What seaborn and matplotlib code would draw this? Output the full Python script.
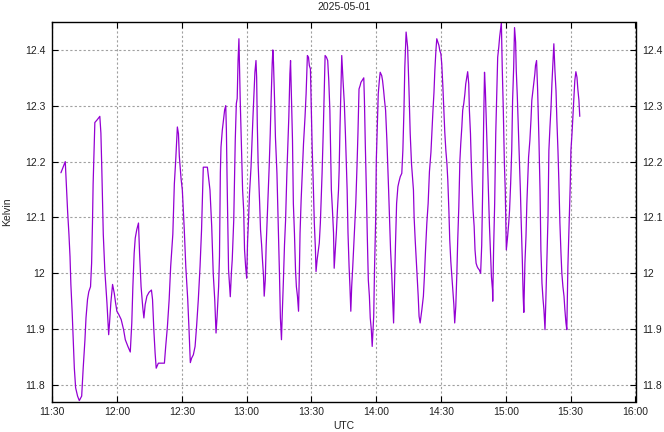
import pandas as pd
import matplotlib
matplotlib.use('Agg')
import matplotlib.pyplot as plt
import matplotlib.dates as mdates
from matplotlib.ticker import FuncFormatter, MultipleLocator
import seaborn as sns

# Readings taken from the chart: minutes after 11:30 UTC and temperature
day = '2025-05-01'
start = '2025-05-01 11:30'
end = '2025-05-01 16:00'

minutes = [
    4.0, 6.0, 6.6, 7.1, 7.7, 8.2, 8.6, 9.2, 9.7, 10.2, 10.8, 11.7, 12.5, 13.6, 14.3, 15.1,
    15.6, 16.3, 16.9, 17.7, 18.2, 18.6, 18.9, 19.4, 19.7, 20.8, 22.0, 22.5, 22.9, 23.6, 24.3,
    25.3, 26.1, 26.5, 27.1, 27.9, 28.7, 29.3, 29.9, 30.8, 31.9, 33.0, 33.8, 35.0, 36.1, 36.8,
    37.3, 37.9, 38.4, 39.1, 39.9, 40.4, 41.1, 41.9, 42.4, 43.0, 43.8, 44.8, 45.9, 46.4, 47.0,
    47.6, 48.1, 49.1, 51.9, 52.5, 53.3, 54.1, 54.8, 55.8, 56.5, 57.1, 57.9, 58.4, 58.8, 59.6,
    60.2, 61.1, 61.8, 62.7, 63.3, 63.9, 64.5, 65.3, 66.1, 66.8, 67.6, 68.4, 69.1, 69.9, 71.8,
    72.2, 73.0, 73.8, 74.5,
    75.2, 75.8, 76.3, 77.0, 77.4, 77.8, 78.1, 78.7, 79.3, 79.8, 80.3, 80.6, 80.9, 81.6, 82.4,
    82.9, 83.3, 84.0, 84.7, 85.2, 85.6, 86.0, 86.4, 86.6, 87.0, 87.5, 88.1, 88.6, 89.0, 89.5,
    90.0, 90.4, 90.9, 91.3, 92.0, 92.4, 92.9, 93.3, 93.8, 94.3, 94.6, 94.9, 95.3, 96.0, 96.4,
    96.9, 97.3, 97.8, 98.1, 98.6, 99.0, 99.5, 100.0, 100.4, 100.9, 101.3, 101.8, 102.1, 102.4,
    102.9, 103.3, 104.0, 104.7, 105.2, 105.6, 106.1, 106.4, 107.0, 107.5, 108.0, 108.6, 109.0,
    109.5, 110.0, 110.3, 110.7, 111.2, 111.6, 112.1, 112.6, 113.0, 113.5, 114.0, 114.4, 114.7,
    115.2, 115.8, 116.3, 117.0, 117.5, 118.1, 118.6, 119.0, 119.5, 119.8, 120.3, 120.9, 121.3,
    121.8, 122.1, 122.6, 123.0, 123.6, 124.1, 124.6, 124.9,
    125.5, 126.0, 126.3, 126.9, 127.5, 128.0, 128.5, 128.9, 129.2, 129.7, 130.2, 130.5, 131.1,
    131.5, 132.0, 132.5, 132.8, 133.2, 133.7, 134.0, 134.6, 135.2, 135.7, 136.2, 136.5, 136.9,
    137.4, 137.8, 138.2, 138.6, 139.1, 139.5, 140.0, 140.5, 141.1, 141.5, 142.0, 142.5, 142.9,
    143.4, 144.2, 144.5, 144.9, 145.4, 145.8, 146.3, 146.8, 147.2, 147.7, 148.1, 148.8, 149.2,
    149.7, 150.0, 150.5, 150.9, 151.4, 151.8, 152.5, 152.9, 153.4, 153.8, 154.3, 154.9, 155.4,
    155.7, 156.2, 156.6, 157.1, 157.5, 158.0, 158.5, 158.9, 159.4, 160.0, 160.5, 161.1, 161.8,
    162.3, 162.8, 163.2, 163.8, 164.5, 165.1, 165.7, 166.3, 167.2, 167.5, 168.0, 168.5, 168.9,
    169.4, 169.8, 170.3, 171.1, 171.8, 172.3, 172.8, 173.4, 174.0, 174.6,
    175.3, 175.7, 176.2, 176.7, 177.1, 177.6, 178.0, 178.5, 179.0, 179.4, 179.9, 180.3, 180.8,
    181.3, 181.7, 182.2, 182.7, 183.1, 183.6, 184.0, 184.5, 185.0, 185.4, 185.9, 186.3, 186.8,
    187.3, 187.7, 188.2, 188.7, 189.1, 189.6, 190.0, 190.5, 191.0, 191.4, 191.9, 192.3, 192.8,
    193.1, 193.6, 193.9, 194.3, 194.8, 195.3, 195.7, 196.2, 196.7, 197.1, 197.7, 198.3, 198.8,
    199.3, 199.7, 200.1, 200.5, 201.0, 201.6, 201.9, 202.4, 202.8, 203.3, 203.8, 203.9, 204.3,
    204.8, 205.3, 205.7, 206.2, 206.7, 207.1, 207.6, 207.9, 208.3, 208.8, 209.3, 209.7, 210.2,
    210.8, 211.3, 211.7, 212.2, 212.7, 213.1, 213.6, 214.0, 214.5, 214.8, 215.3, 215.7, 216.2,
    216.7, 217.1, 217.6, 218.0, 218.3, 218.8, 219.3, 219.7, 220.5, 221.1, 221.6, 222.0, 222.5,
    223.0, 223.4, 223.7, 224.2, 224.7,
    225.3, 225.8, 226.2, 226.7, 227.2, 227.6, 228.1, 228.5, 229.0, 229.5, 229.9, 230.4, 230.9,
    231.3, 231.8, 232.2, 232.7, 233.2, 233.6, 234.1, 234.5, 235.0, 235.5, 235.9, 236.4, 236.9,
    237.3, 237.8, 238.2, 238.7, 239.3, 239.8, 240.1, 240.6, 241.0, 241.5, 241.9, 242.4, 242.9,
    243.3, 243.8, 244.2,
]

kelvin = [
    12.18, 12.20, 12.15, 12.11, 12.07, 12.03, 11.98, 11.93, 11.88, 11.83, 11.795, 11.78, 11.772,
    11.78, 11.83, 11.88, 11.92, 11.953, 11.967, 11.976, 12.018, 12.09, 12.16, 12.232, 12.27,
    12.275, 12.281, 12.251, 12.19, 12.07, 12.006,
    11.947, 11.89, 11.911, 11.947, 11.98, 11.964, 11.947, 11.932, 11.926, 11.917, 11.899, 11.881,
    11.869, 11.859, 11.911, 11.976, 12.036, 12.063, 12.078, 12.09, 12.036, 11.976, 11.938, 11.92,
    11.944, 11.959, 11.966, 11.97, 11.953, 11.899, 11.857, 11.83, 11.839, 11.839, 11.869, 11.905,
    11.953, 12.012, 12.07, 12.16, 12.2, 12.262, 12.25, 12.21, 12.17, 12.149, 12.078, 12.012,
    11.953, 11.899, 11.84, 11.848, 11.854, 11.869, 11.905, 11.953, 12.012, 12.078, 12.19, 12.19,
    12.176, 12.149, 12.084, 12.0,
    11.953, 11.893, 11.923, 11.976, 12.03, 12.18, 12.226, 12.256, 12.277, 12.293, 12.30, 12.256,
    12.173, 12.006, 11.958, 12.0, 12.024, 12.095, 12.238, 12.304, 12.313, 12.381, 12.42, 12.382,
    12.31, 12.238, 12.149, 12.113, 12.042, 12.012, 11.991, 12.057, 12.101, 12.143, 12.19, 12.232,
    12.28, 12.315, 12.36, 12.381, 12.351, 12.268, 12.196, 12.125, 12.078, 12.051, 12.024, 11.994,
    11.959, 11.988, 12.048, 12.098, 12.149, 12.19, 12.25, 12.31, 12.375, 12.40, 12.378, 12.31,
    12.244, 12.179, 12.072, 11.994, 11.92, 11.881, 11.92, 11.988, 12.051, 12.095, 12.179, 12.226,
    12.28, 12.357, 12.381, 12.315, 12.238, 12.125, 12.072, 12.006, 11.976, 11.959, 11.932, 12.006,
    12.072, 12.131, 12.185, 12.232, 12.28, 12.321, 12.39, 12.387, 12.372, 12.366, 12.315, 12.226,
    12.149, 12.09, 12.045, 12.003, 12.024, 12.036, 12.054, 12.09, 12.149, 12.179,
    12.262, 12.345, 12.39, 12.387, 12.381, 12.345, 12.292, 12.208, 12.149, 12.113, 12.072, 12.009,
    12.045, 12.072, 12.113, 12.149, 12.185, 12.262, 12.345, 12.39, 12.345, 12.304, 12.25, 12.19,
    12.149, 12.072, 12.012, 11.976, 11.932, 11.976, 12.012, 12.045, 12.09, 12.125, 12.196, 12.25,
    12.33, 12.336, 12.342, 12.345, 12.35, 12.31, 12.232, 12.149, 12.072, 11.988, 11.959, 11.92,
    11.899, 11.869, 11.923, 12.012, 12.095, 12.202, 12.268, 12.321, 12.345, 12.36, 12.354, 12.345,
    12.327, 12.31, 12.292, 12.238, 12.185, 12.149, 12.09, 12.042, 12.003, 11.964, 11.911, 11.994,
    12.054, 12.125, 12.155, 12.164, 12.173, 12.179, 12.22, 12.292, 12.369, 12.432, 12.405, 12.333,
    12.25, 12.196, 12.149, 12.101, 12.06, 12.024, 11.994, 11.959, 11.923, 11.911, 11.935, 11.959,
    11.997, 12.042, 12.09, 12.125, 12.182,
    12.217, 12.25, 12.289, 12.324, 12.363, 12.399, 12.42, 12.414, 12.408, 12.399, 12.393, 12.375,
    12.336, 12.292, 12.253, 12.22, 12.196, 12.167, 12.113, 12.06, 12.021, 11.994, 11.97, 11.944,
    11.911, 11.941, 12.0, 12.06, 12.119, 12.202, 12.232, 12.262, 12.292, 12.304, 12.321, 12.339,
    12.351, 12.361, 12.339, 12.292, 12.25, 12.208, 12.161, 12.113, 12.084, 12.042, 12.018, 12.012,
    12.009, 12.006, 12.0, 12.05, 12.16, 12.27, 12.36, 12.327, 12.262, 12.19, 12.149, 12.084,
    12.042, 11.994, 11.97, 11.95, 12.042, 12.125, 12.25, 12.31, 12.387, 12.405, 12.423, 12.44,
    12.449, 12.369, 12.292, 12.196, 12.149, 12.042, 12.066, 12.09, 12.113, 12.161, 12.22, 12.31,
    12.369, 12.44, 12.414, 12.363, 12.315, 12.265, 12.208, 12.149, 12.09, 12.024, 11.959, 11.93,
    12.018, 12.066, 12.125, 12.208, 12.238, 12.274, 12.31, 12.327, 12.345, 12.357, 12.372, 12.381,
    12.327,
    12.238, 12.149, 12.042, 11.982, 11.953, 11.935, 11.899, 11.953, 12.03, 12.101, 12.22, 12.262,
    12.298, 12.339, 12.381, 12.411, 12.363, 12.327, 12.274, 12.22, 12.167, 12.09, 12.036, 12.0,
    11.976, 11.959, 11.935, 11.911, 11.899, 12.012, 12.09, 12.161, 12.22, 12.25, 12.28, 12.315,
    12.345, 12.361, 12.351, 12.33, 12.31, 12.281,
]

df = pd.DataFrame({
    'time': pd.Timestamp(start) + pd.to_timedelta(minutes, unit='m'),
    'kelvin': kelvin,
})

sns.set_theme(style='ticks')
plt.rcParams['font.family'] = ['Liberation Sans', 'DejaVu Sans']

fig = plt.figure(figsize=(6.64, 4.32), dpi=100)
ax = fig.add_axes([52.3 / 664, 1 - 401.7 / 432, 583.2 / 664, 379.7 / 432])

sns.lineplot(data=df, x='time', y='kelvin', color='#9400d3', linewidth=0.9, ax=ax)

ax.set_xlim(pd.Timestamp(start), pd.Timestamp(end))
ax.set_ylim(11.77, 12.45)
ax.xaxis.set_major_locator(mdates.MinuteLocator(byminute=[0, 30]))
ax.xaxis.set_major_formatter(mdates.DateFormatter('%H:%M'))
ax.yaxis.set_major_locator(MultipleLocator(0.1))
ax.yaxis.set_major_formatter(FuncFormatter(lambda v, p: f'{round(v, 2):g}'))

ax.grid(True, color='#a0a0a0', linestyle=(0, (2, 2)), linewidth=0.8)
for s in ax.spines.values():
    s.set_color('black')
    s.set_linewidth(1.0)
ax.tick_params(direction='in', top=True, right=True, labelright=True,
               length=4, width=0.8, labelsize=7.5, labelcolor='#222222', color='black')
ax.tick_params(axis='x', pad=3.5)
ax.tick_params(axis='y', pad=5)

ax.set_title(day, fontsize=7.5, pad=9, color='#222222')
ax.set_xlabel('UTC', fontsize=7.5, labelpad=3, color='#222222')
ax.set_ylabel('Kelvin', fontsize=7.5, labelpad=9, color='#222222')

fig.savefig('out.png', dpi=100)
